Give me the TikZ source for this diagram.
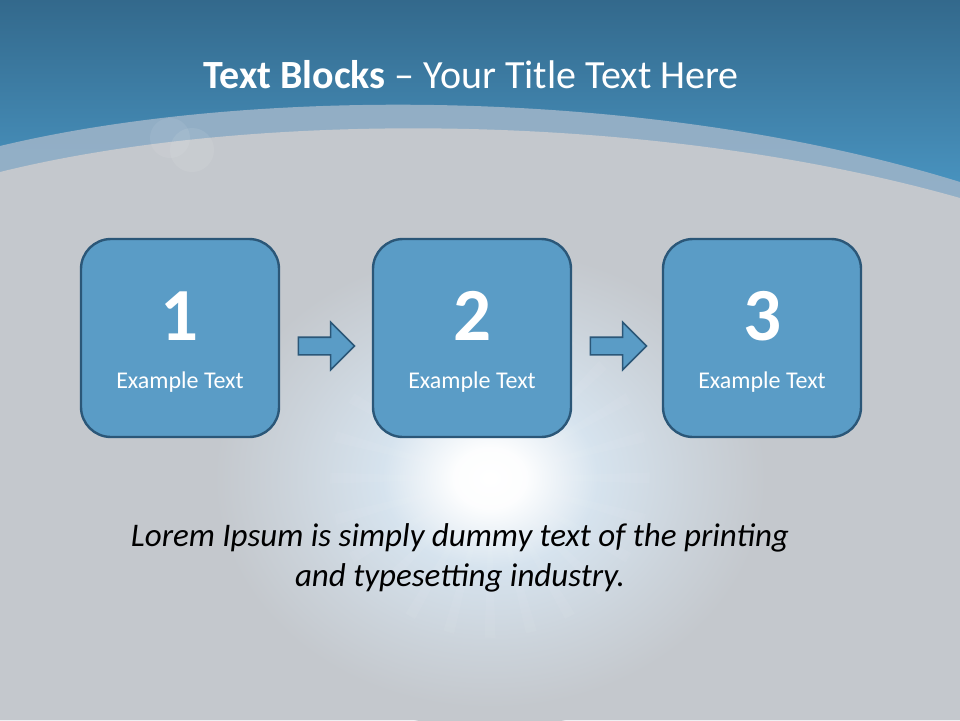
\documentclass[tikz,border=0pt]{standalone}
\usepackage{fontspec}
\setmainfont{Carlito}
\usetikzlibrary{shapes.arrows}
\definecolor{topblue}{HTML}{33698C}
\definecolor{midblue}{HTML}{4A96C3}
\definecolor{bandcol}{HTML}{9BB3C8}
\definecolor{bggray}{HTML}{C4C8CD}
\definecolor{boxfill}{HTML}{5A9CC6}
\definecolor{boxline}{HTML}{2B5778}
\definecolor{glowmid}{HTML}{D6E3EE}
\pgfdeclareradialshading{glow}{\pgfpoint{0bp}{0bp}}{color(0bp)=(white); color(3bp)=(white!94!glowmid); color(9bp)=(glowmid); color(17bp)=(glowmid!40!bggray); color(23bp)=(bggray); color(50bp)=(bggray)}
\tikzset{
  blockbox/.style={draw=boxline, fill=boxfill, line width=2.4pt, rounded corners=30pt,
    minimum width=198pt, minimum height=198pt, inner sep=0pt},
  numtxt/.style={text=white, font=\fontsize{75}{75}\selectfont\bfseries},
  extxt/.style={text=white, font=\fontsize{24}{26}\selectfont},
  blockarrow/.style={single arrow, draw=boxline, fill=boxfill, line width=1.6pt,
    minimum height=56pt, minimum width=46pt, inner sep=8pt, single arrow head extend=15pt},
}
\begin{document}
\begin{tikzpicture}[x=1pt,y=-1pt]
\useasboundingbox (0,0) rectangle (960,720);
% background
\shade[top color=topblue, bottom color=midblue] (0,0) rectangle (960,200);
\fill[midblue] (0,199) rectangle (960,720);
% light band
\fill[bandcol, opacity=0.9] (0,146) .. controls (250,86) and (650,86) .. (960,182) -- (960,720) -- (0,720) -- cycle;
% gray area
\fill[bggray] (0,172) .. controls (250,110) and (650,110) .. (960,198) -- (960,720) -- (0,720) -- cycle;
% faint bubbles
\fill[white, opacity=0.08] (192,150) circle (22);
\fill[white, opacity=0.07] (170,138) circle (20);
% glow
\shade[shading=glow] (490,478) ellipse (300 and 250);
\foreach \a in {0,15,...,345}{
  \fill[white, opacity=0.05] (490,478) -- ++(\a-2:160) -- ++(\a+92:11) -- cycle;
}
% title
\node (title) at (471,75) {\textcolor{white}{\fontsize{40}{44}\selectfont\textbf{Text Blocks} – Your Title Text Here}};
% boxes
\node[blockbox] (b1) at (180,338) {};
\node[blockbox] (b2) at (472,338) {};
\node[blockbox] (b3) at (762,338) {};
\foreach \i/\n in {1/1,2/2,3/3}{
  \node[numtxt] (n\i) at ([yshift=22pt]b\i.center) {\n};
  \node[extxt] (e\i) at ([yshift=-44pt]b\i.center) {Example Text};
}
% arrows
\node[blockarrow] (a1) at (322,346) {};
\node[blockarrow] (a2) at (614,346) {};
% bottom text
\node[align=center, font=\fontsize{33}{40}\selectfont\itshape, text=black] (lorem) at (460,558)
  {Lorem Ipsum is simply dummy text of the printing\\and typesetting industry.};
\end{tikzpicture}
\end{document}
